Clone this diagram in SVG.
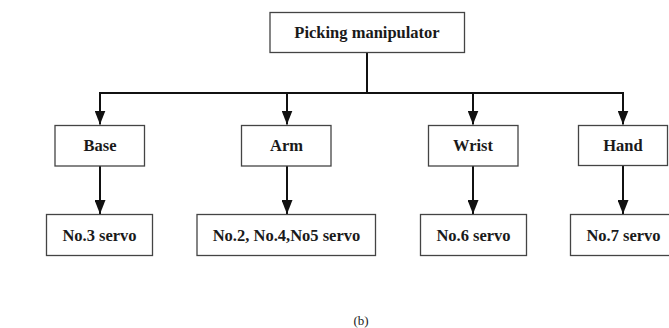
<svg xmlns="http://www.w3.org/2000/svg" width="669" height="328" viewBox="0 0 669 328">
<defs>
<marker id="ah" markerUnits="userSpaceOnUse" markerWidth="15" markerHeight="11" refX="14" refY="5.5" orient="auto" viewBox="0 0 15 11">
<path d="M0,0 L14,5.5 L0,11 Z" fill="#111"/>
</marker>
<style>
.box{fill:#fff;stroke:#444;stroke-width:1.3}
.t{font-family:"Liberation Serif","Times New Roman",serif;font-weight:bold;font-size:16.5px;fill:#1a1a1a;text-anchor:middle}
.c{fill:none;stroke:#111;stroke-width:2}
.cap{font-family:"Liberation Serif","Times New Roman",serif;font-size:13px;fill:#222;text-anchor:middle}
</style>
</defs>
<rect width="669" height="328" fill="#fff"/>
<g id="connectors">
<path class="c" d="M367,52 V93 M99,93 H624"/>
<line class="c" x1="100" y1="93" x2="100" y2="124.5" marker-end="url(#ah)"/>
<line class="c" x1="287" y1="93" x2="287" y2="124.5" marker-end="url(#ah)"/>
<line class="c" x1="473" y1="93" x2="473" y2="124.5" marker-end="url(#ah)"/>
<line class="c" x1="623" y1="93" x2="623" y2="124.5" marker-end="url(#ah)"/>
<line class="c" x1="100" y1="166" x2="100" y2="214" marker-end="url(#ah)"/>
<line class="c" x1="287" y1="166" x2="287" y2="214" marker-end="url(#ah)"/>
<line class="c" x1="473" y1="166" x2="473" y2="214" marker-end="url(#ah)"/>
<line class="c" x1="623" y1="166" x2="623" y2="214" marker-end="url(#ah)"/>
</g>
<g id="picking-manipulator">
<rect class="box" x="270" y="12.5" width="194.5" height="40"/>
<text class="t" x="367" y="38">Picking manipulator</text>
</g>
<g id="base">
<rect class="box" x="55" y="125.5" width="89.5" height="40.5"/>
<text class="t" x="100" y="151">Base</text>
</g>
<g id="arm">
<rect class="box" x="241.5" y="125.5" width="89.5" height="40.5"/>
<text class="t" x="286.5" y="151">Arm</text>
</g>
<g id="wrist">
<rect class="box" x="428.5" y="125.5" width="89.5" height="40.5"/>
<text class="t" x="473" y="151">Wrist</text>
</g>
<g id="hand">
<rect class="box" x="578.5" y="125.5" width="89" height="40"/>
<text class="t" x="623" y="151">Hand</text>
</g>
<g id="servo3">
<rect class="box" x="46.5" y="214.5" width="106" height="41"/>
<text class="t" x="99.5" y="240.5">No.3 servo</text>
</g>
<g id="servo245">
<rect class="box" x="197" y="214.5" width="178.5" height="41"/>
<text class="t" x="286.5" y="240.5">No.2, No.4,No5 servo</text>
</g>
<g id="servo6">
<rect class="box" x="420.5" y="214.5" width="106" height="41"/>
<text class="t" x="473.5" y="240.5">No.6 servo</text>
</g>
<g id="servo7">
<rect class="box" x="570.5" y="214.5" width="106" height="41"/>
<text class="t" x="623.5" y="240.5">No.7 servo</text>
</g>
<text class="cap" x="361" y="325">(b)</text>
</svg>
